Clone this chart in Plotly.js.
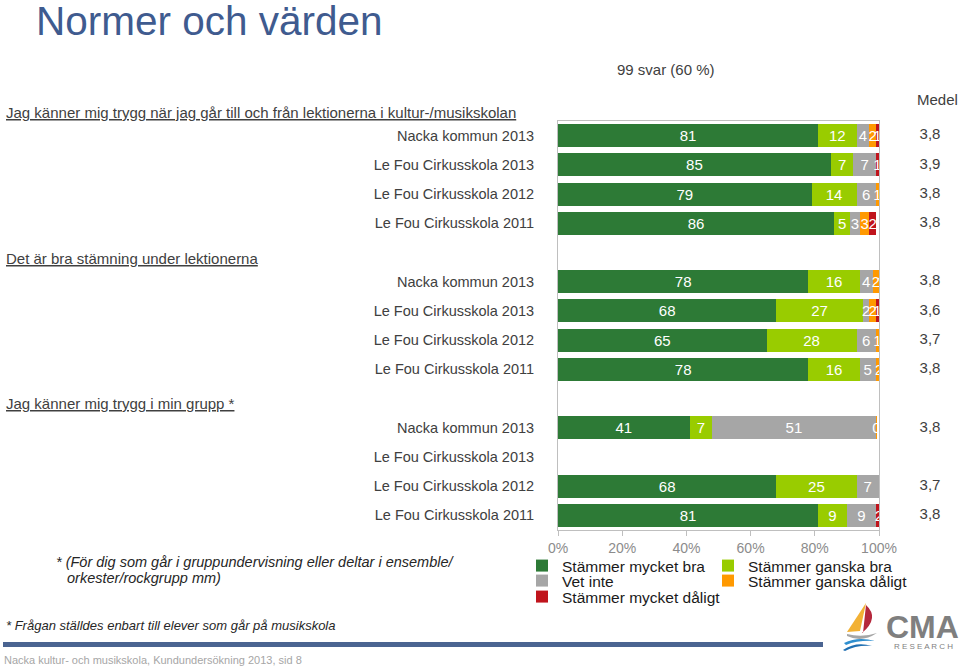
<!DOCTYPE html>
<html><head><meta charset="utf-8">
<script src="https://cdn.plot.ly/plotly-3.0.1.min.js"></script>
<style>html,body{margin:0;padding:0;background:#fff}#chart{width:959px;height:668px}</style>
</head><body><div id="chart"></div>
<script>
// ---- data ----
const questions = [
  "Jag känner mig trygg när jag går till och från lektionerna i kultur-/musikskolan",
  "Det är bra stämning under lektionerna",
  "Jag känner mig trygg i min grupp *"
];
const units = ["Nacka kommun 2013","Le Fou Cirkusskola 2013","Le Fou Cirkusskola 2012","Le Fou Cirkusskola 2011"];
const seriesNames = ["Stämmer mycket bra","Stämmer ganska bra","Vet inte","Stämmer ganska dåligt","Stämmer mycket dåligt"];
const veryGood   = [81,85,79,86, 78,68,65,78, 41,null,68,81];
const fairlyGood = [12, 7,14, 5, 16,27,28,16,  7,null,25, 9];
const dontKnow   = [ 4, 7, 6, 3,  4, 2, 6, 5, 51,null, 7, 9];
const fairlyBad  = [ 2, 0, 1, 3,  2, 2, 1, 2, 0.4,null,0, 0];
const veryBad    = [ 1, 1, 0, 2,  1, 1, 0, 0,  0,null, 0, 2];
const medel = ["3,8","3,9","3,8","3,8","3,8","3,6","3,7","3,8","3,8","","3,7","3,8"];
const xTickVals = [0,20,40,60,80,100];
const xTickText = ["0%","20%","40%","60%","80%","100%"];
const respondents = "99 svar (60 %)";
const medelTitle = "Medel";

// ---- helpers ----
const W = 959, H = 668;
const px = x => x / W, py = y => 1 - y / H;
const F = "Liberation Sans, Arial, sans-serif";
const colors = ["#2D7A36","#99CC00","#A6A6A6","#FF9900","#C0141C"];
const values = [veryGood, fairlyGood, dontKnow, fairlyBad, veryBad];
const legendIds = ["legend","legend2","legend3","legend4","legend5"];

const slotY = [], rowText = [];
questions.forEach((q, g) => units.forEach((u, i) => { slotY.push(g * 5 + i); rowText.push(u); }));

const traces = values.map((vals, k) => ({
  type: 'bar', orientation: 'h', name: seriesNames[k], x: vals, y: slotY,
  marker: {color: colors[k], line: {width: 0}},
  text: vals.map(v => (v === null || v === 0) ? '' : String(Math.round(v))),
  textposition: 'inside', insidetextanchor: 'middle', textangle: 0, constraintext: 'none',
  insidetextfont: {family: F, size: 15, color: '#ffffff'},
  legend: legendIds[k], hoverinfo: 'skip'
}));
traces.push({
  type: 'scatter', mode: 'text', x: medel.map(() => 0), y: slotY, text: medel,
  xaxis: 'x2', yaxis: 'y', showlegend: false, hoverinfo: 'skip',
  textfont: {family: F, size: 15, color: '#404040'}
});

// legend placement (text start x, centre y)
const legPos = [[562,566],[748,566],[562,581],[748,581],[562,597]];
const legendCommon = {bgcolor: 'rgba(0,0,0,0)', borderwidth: 0, font: {family: F, size: 15.5, color: '#1a1a1a'},
  xanchor: 'left', yanchor: 'middle', orientation: 'v', tracegroupgap: 0};

const annotations = [];
const headerY = [113, 258, 403];
questions.forEach((q, g) => annotations.push({
  text: '<span style="text-decoration:underline">' + q + '</span>',
  xref: 'paper', yref: 'paper', x: px(4), y: py(headerY[g]), xanchor: 'left', yanchor: 'middle',
  showarrow: false, font: {family: F, size: 15, color: '#404040'}
}));
annotations.push({text: medelTitle, xref: 'paper', yref: 'paper', x: px(937), y: py(100), xanchor: 'center', yanchor: 'middle',
  showarrow: false, font: {family: F, size: 15, color: '#404040'}});
annotations.push({text: respondents, xref: 'paper', yref: 'paper', x: px(666), y: py(69), xanchor: 'center', yanchor: 'middle',
  showarrow: false, font: {family: F, size: 15, color: '#404040'}});
annotations.push({text: '<i>* (För dig som går i gruppundervisning eller deltar i ensemble/</i>', xref: 'paper', yref: 'paper',
  x: px(54), y: py(562), xanchor: 'left', yanchor: 'middle', showarrow: false, font: {family: F, size: 14.5, color: '#262626'}});
annotations.push({text: '<i>orkester/rockgrupp mm)</i>', xref: 'paper', yref: 'paper',
  x: px(65), y: py(578), xanchor: 'left', yanchor: 'middle', showarrow: false, font: {family: F, size: 14.5, color: '#262626'}});
annotations.push({text: '<i>* Frågan ställdes enbart till elever som går på musikskola</i>', xref: 'paper', yref: 'paper',
  x: px(4), y: py(625), xanchor: 'left', yanchor: 'middle', showarrow: false, font: {family: F, size: 13, color: '#262626'}});
annotations.push({text: 'Nacka kultur- och musikskola, Kundundersökning 2013, sid 8', xref: 'paper', yref: 'paper',
  x: px(2), y: py(660), xanchor: 'left', yanchor: 'middle', showarrow: false, font: {family: F, size: 11, color: '#A6A6A6'}});
annotations.push({text: '<b>CMA</b>', xref: 'paper', yref: 'paper', x: px(922), y: py(627), xanchor: 'center', yanchor: 'middle',
  showarrow: false, font: {family: F, size: 32, color: '#7F7F7F'}});
annotations.push({text: 'R E S E A R C H', xref: 'paper', yref: 'paper', x: px(923), y: py(646), xanchor: 'center', yanchor: 'middle',
  showarrow: false, font: {family: F, size: 8, color: '#7F7F7F'}});

function path(pts) {
  return 'M' + pts.map(p => px(p[0]).toFixed(5) + ',' + py(p[1]).toFixed(5)).join(' L') + ' Z';
}
function curve(d) {
  return d.map(c => c[0] + c.slice(1).map(p => px(p[0]).toFixed(5) + ',' + py(p[1]).toFixed(5)).join(' ')).join(' ');
}
const shapes = [
  {type: 'rect', xref: 'paper', yref: 'paper', x0: px(3), x1: px(823), y0: py(647), y1: py(642), fillcolor: '#4A6491', line: {width: 0}},
  {type: 'path', xref: 'paper', yref: 'paper', path: path([[866,603],[847,632],[860,631]]), fillcolor: '#F2B134', line: {width: 0}},
  {type: 'path', xref: 'paper', yref: 'paper',
    path: curve([['M',[866,605]],['Q',[880,618],[862,633]],['L',[863,633]],['Z']]), fillcolor: '#B5283C', line: {width: 0}},
  {type: 'path', xref: 'paper', yref: 'paper',
    path: curve([['M',[847,634]],['Q',[862,638],[877,633]],['Q',[862,643],[847,636]],['Z']]), fillcolor: '#A6A6A6', line: {width: 0}},
  {type: 'path', xref: 'paper', yref: 'paper',
    path: curve([['M',[844,643]],['Q',[858,636],[875,641]],['Q',[858,640],[846,645]],['Z']]), fillcolor: '#2F8FCF', line: {width: 0}},
  {type: 'path', xref: 'paper', yref: 'paper',
    path: curve([['M',[843,650]],['Q',[856,641],[872,646]],['Q',[856,645],[845,651]],['Z']]), fillcolor: '#1F6FB2', line: {width: 0}}
];

const layout = {
  width: W, height: H, margin: {l: 0, r: 0, t: 0, b: 0, pad: 0},
  paper_bgcolor: '#ffffff', plot_bgcolor: '#ffffff',
  barmode: 'stack', bargap: 0.21,
  font: {family: F, color: '#404040'},
  title: {text: 'Normer och värden', x: px(36), xanchor: 'left', xref: 'container', y: py(21), yanchor: 'middle', yref: 'container',
    font: {family: F, size: 40.5, color: '#3F5B8F'}},
  xaxis: {domain: [px(558), px(879)], range: [0, 100], tickvals: xTickVals, ticktext: xTickText,
    showgrid: false, zeroline: false, showline: true, linecolor: '#BFBFBF', linewidth: 1, mirror: true,
    ticks: 'outside', ticklen: 5, tickcolor: '#BFBFBF', tickfont: {family: F, size: 14, color: '#8C8C8C'}, fixedrange: true},
  yaxis: {domain: [py(530), py(121)], range: [13.5, -0.5], tickvals: slotY, ticktext: rowText,
    showgrid: false, zeroline: false, showline: true, linecolor: '#BFBFBF', linewidth: 1, mirror: true,
    ticks: '', ticklabelstandoff: 20, tickfont: {family: F, size: 14.5, color: '#404040'}, fixedrange: true},
  xaxis2: {domain: [px(901), 1], range: [-1, 1], visible: false, anchor: 'y', fixedrange: true},
  annotations: annotations,
  shapes: shapes,
  showlegend: true
};
legendIds.forEach((id, k) => {
  layout[id] = Object.assign({}, legendCommon, {x: px(legPos[k][0] - 40), y: py(legPos[k][1])});
});

Plotly.newPlot('chart', traces, layout, {displayModeBar: false, staticPlot: true});
</script>
</body></html>
